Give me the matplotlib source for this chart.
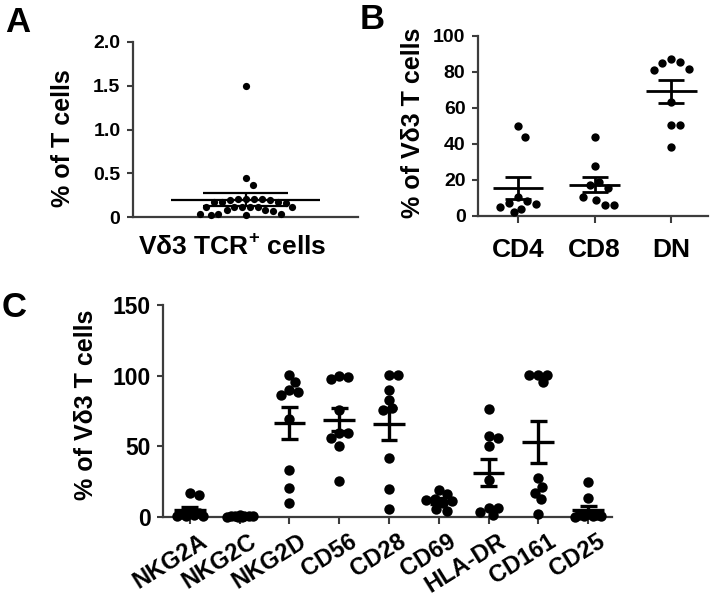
import numpy as np
import matplotlib
matplotlib.use('Agg')
import matplotlib.pyplot as plt
from matplotlib.transforms import ScaledTranslation

plt.rcParams['font.family'] = ['Liberation Sans', 'DejaVu Sans']
plt.rcParams['font.weight'] = 'bold'
plt.rcParams['mathtext.fontset'] = 'custom'
plt.rcParams['mathtext.rm'] = 'Liberation Sans:bold'
plt.rcParams['mathtext.bf'] = 'Liberation Sans:bold'

# panel A: % of T cells, single group
a_vals = [1.5, 0.45, 0.37,
          0.21, 0.21, 0.20, 0.21, 0.20, 0.21,
          0.17, 0.17, 0.16, 0.17,
          0.12, 0.12, 0.12, 0.11, 0.12, 0.11,
          0.08, 0.08, 0.07,
          0.03, 0.03, 0.02, 0.03, 0.02]
a_mean = 0.20
a_sem = 0.078

# panel B: subsets
b_labels = ['CD4', 'CD8', 'DN']
b_cd4 = [50.2, 44.1, 10.4, 8.5, 7.4, 6.5, 4.8, 4.1, 2.4]
b_cd8 = [44.0, 27.8, 19.0, 17.2, 15.4, 10.4, 8.9, 5.9, 5.9]
b_dn = [87.0, 85.7, 85.2, 81.7, 81.0, 63.5, 50.5, 50.5, 38.5]
b_means = [15.4, 17.4, 69.3]
b_sems = [6.1, 4.1, 6.4]

# panel C: markers
c_labels = ['NKG2A', 'NKG2C', 'NKG2D', 'CD56', 'CD28', 'CD69', 'HLA-DR', 'CD161', 'CD25']
c_nkg2a = [17.3, 15.6, 3.0, 2.5, 2.0, 1.5, 1.0, 0.5, 0.5]
c_nkg2c = [1.2, 1.0, 0.8, 0.6, 0.5, 0.4, 0.3, 0.2, 0.1]
c_nkg2d = [100.7, 95.5, 90.0, 88.4, 86.5, 69.3, 33.3, 20.3, 10.2]
c_cd56 = [100.0, 99.0, 97.6, 75.9, 59.3, 59.3, 55.8, 50.4, 25.5]
c_cd28 = [100.5, 100.5, 90.0, 83.0, 77.0, 76.0, 41.6, 19.6, 5.4]
c_cd69 = [19.0, 16.0, 13.0, 12.0, 11.0, 10.0, 6.0, 4.0]
c_hladr = [76.4, 57.0, 55.8, 49.9, 26.2, 6.1, 6.1, 3.8, 1.4]
c_cd161 = [100.7, 100.7, 100.7, 95.3, 27.4, 21.5, 17.3, 12.8, 2.1]
c_cd25 = [25.0, 13.2, 2.0, 1.5, 1.2, 1.0, 0.8, 0.5, 0.3]
c_means = [5.0, 0.5, 66.4, 68.8, 66.0, 11.3, 31.4, 53.0, 5.0]
c_sems = [1.9, 0.15, 11.3, 8.0, 11.2, 1.8, 9.7, 14.7, 2.8]

AXCOL = '#3c3c3c'

fig = plt.figure(figsize=(7.1, 6.0), dpi=100)
W, H = 710, 600


def swarm(ax, vals, dist_px, half_px, yw=1.0):
    # simple beeswarm in pixel space, returns x offsets in data units
    pos = ax.get_position()
    x0, x1 = ax.get_xlim()
    y0, y1 = ax.get_ylim()
    ppx = pos.width * W / (x1 - x0)
    ppy = pos.height * H / (y1 - y0)
    vals = np.asarray(vals, dtype=float)
    steps = np.arange(0.5, half_px + 0.01, 0.5)
    cands = np.concatenate([[0.0], np.ravel(np.column_stack([steps, -steps]))])
    placed = []
    offs = np.zeros(len(vals))
    for i in np.argsort(-vals, kind='stable'):
        y = vals[i] * ppy * yw
        best, best_d = 0.0, -1
        for c in cands:
            if not placed:
                best = c
                break
            d = min(np.hypot(c - px, y - py) for px, py in placed)
            if d >= dist_px:
                best = c
                break
            if d > best_d + 1e-9:
                best, best_d = c, d
        placed.append((best, y))
        offs[i] = best / ppx
    return offs


def draw_group(ax, xc, vals, mean, sem, ms, dist, half, mean_hw, cap_hw, lw, yw=1.0):
    offs = swarm(ax, vals, dist, half, yw)
    ax.plot(xc + offs, vals, 'o', color='black', ms=ms, mec='none',
            clip_on=False, zorder=3)
    ax.hlines(mean, xc - mean_hw, xc + mean_hw, color='black', lw=lw, zorder=4)
    ax.hlines([mean - sem, mean + sem], xc - cap_hw, xc + cap_hw,
              color='black', lw=lw, zorder=4)
    ax.vlines(xc, mean - sem, mean + sem, color='black', lw=lw, zorder=4)


def style(ax):
    for s in ['top', 'right']:
        ax.spines[s].set_visible(False)
    for s in ['left', 'bottom']:
        ax.spines[s].set_linewidth(1.6)
        ax.spines[s].set_color(AXCOL)
    ax.tick_params(colors=AXCOL, labelcolor='black', width=1.5, length=4,
                   direction='out')


# ---- A ----
ax_a = fig.add_axes([133 / W, 1 - 217 / H, 225 / W, 175 / H])
ax_a.set_xlim(0, 1)
ax_a.set_ylim(0, 2.0)
style(ax_a)
draw_group(ax_a, 0.5, a_vals, a_mean, a_sem, 5.2, 8.0, 46, 0.33, 0.19, 1.6, yw=0.6)
ax_a.set_yticks([0, 0.5, 1.0, 1.5, 2.0])
ax_a.set_yticklabels(['0', '0.5', '1.0', '1.5', '2.0'])
ax_a.set_xticks([])
ax_a.tick_params(axis='y', labelsize=14, pad=5)
ax_a.set_ylabel('% of T cells', fontsize=18, fontweight='bold')
ax_a.yaxis.set_label_coords(-0.26, 0.45)
ax_a.set_xlabel('V\u03b43 TCR$^{\\mathbf{+}}$ cells', fontsize=19, fontweight='bold')
ax_a.xaxis.set_label_coords(0.44, -0.1)
ax_a.xaxis.label.set_va('top')

# ---- B ----
ax_b = fig.add_axes([478 / W, 1 - 216 / H, 230 / W, 180 / H])
ax_b.set_xlim(-0.52, 2.48)
ax_b.set_ylim(0, 100)
style(ax_b)
for i, vals in enumerate([b_cd4, b_cd8, b_dn]):
    draw_group(ax_b, i, vals, b_means[i], b_sems[i], 6.0, 9.0, 24, 0.33, 0.17, 2.0, yw=0.5)
ax_b.set_yticks([0, 20, 40, 60, 80, 100])
ax_b.set_xticks(range(len(b_labels)))
ax_b.set_xticklabels(b_labels)
ax_b.tick_params(axis='y', labelsize=14, pad=5)
ax_b.tick_params(axis='x', labelsize=19, pad=11, length=5)
ax_b.set_ylabel('% of V\u03b43 T cells', fontsize=18, fontweight='bold')
ax_b.yaxis.set_label_coords(-0.23, 0.52)

# ---- C ----
ax_c = fig.add_axes([163 / W, 1 - 517 / H, 449 / W, 212 / H])
ax_c.set_xlim(-0.54, 8.48)
ax_c.set_ylim(0, 150)
style(ax_c)
c_groups = [c_nkg2a, c_nkg2c, c_nkg2d, c_cd56, c_cd28, c_cd69, c_hladr, c_cd161, c_cd25]
for i, vals in enumerate(c_groups):
    draw_group(ax_c, i, vals, c_means[i], c_sems[i], 7.5, 9.0, 13, 0.32, 0.17, 2.4)
ax_c.set_yticks([0, 50, 100, 150])
ax_c.set_xticks(range(len(c_labels)))
ax_c.set_xticklabels(c_labels, rotation=32, ha='right', rotation_mode='anchor')
ax_c.tick_params(axis='y', labelsize=16.5, pad=5)
ax_c.tick_params(axis='x', labelsize=17, pad=4, length=5)
shift = ScaledTranslation(9 / 100, 0, fig.dpi_scale_trans)
for lab in ax_c.get_xticklabels():
    lab.set_transform(lab.get_transform() + shift)
ax_c.set_ylabel('% of V\u03b43 T cells', fontsize=18, fontweight='bold')
ax_c.yaxis.set_label_coords(-0.145, 0.53)

# panel letters
for letter, x, y in [('A', 5, 6), ('B', 360, 3), ('C', 2, 291)]:
    fig.text(x / W, 1 - y / H, letter, fontsize=25, fontweight='bold',
             ha='left', va='top')

fig.savefig('out.png', dpi=100)
